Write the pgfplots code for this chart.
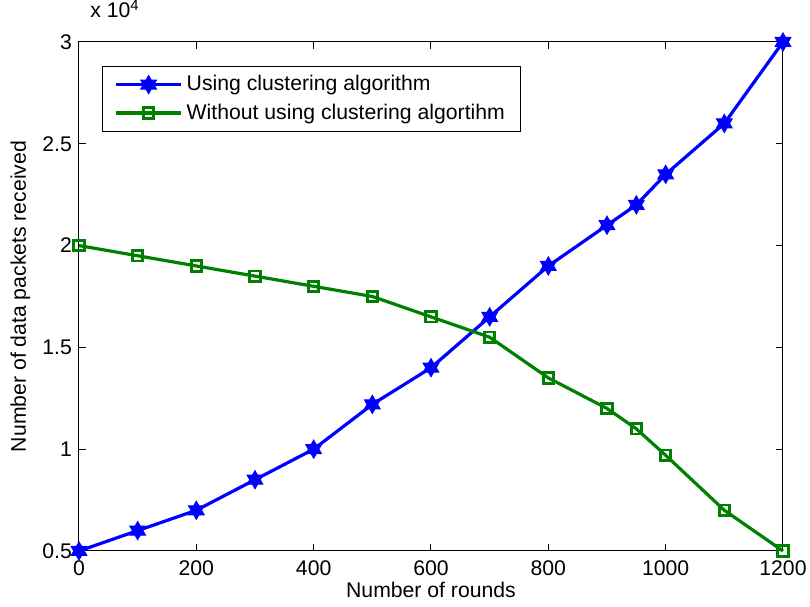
\documentclass[border=0pt]{standalone}
\usepackage{pgfplots}
\pgfplotsset{compat=1.18}
\usepackage{fontspec}
\setmainfont{Liberation Sans}
\definecolor{mblue}{rgb}{0,0,1}
\definecolor{mgreen}{rgb}{0,0.5,0}
\pgfdeclareplotmark{hexstar}{%
  \pgfpathmoveto{\pgfqpointpolar{90}{\pgfplotmarksize}}%
  \pgfpathlineto{\pgfqpointpolar{210}{\pgfplotmarksize}}%
  \pgfpathlineto{\pgfqpointpolar{330}{\pgfplotmarksize}}%
  \pgfpathclose
  \pgfpathmoveto{\pgfqpointpolar{270}{\pgfplotmarksize}}%
  \pgfpathlineto{\pgfqpointpolar{30}{\pgfplotmarksize}}%
  \pgfpathlineto{\pgfqpointpolar{150}{\pgfplotmarksize}}%
  \pgfpathclose
  \pgfusepathqfillstroke}
\newcommand{\ff}{\fontsize{10.6}{12.7}\selectfont}
\begin{document}
\begin{tikzpicture}
\begin{axis}[
  scale only axis,
  width=352pt, height=254.5pt,
  xmin=0, xmax=1200, ymin=5000, ymax=30000,
  xtick={0,200,...,1200},
  ytick={5000,10000,15000,20000,25000,30000},
  yticklabels={0.5,1,1.5,2,2.5,3},
  scaled y ticks=false,
  /pgf/number format/1000 sep={},
  /pgf/number format/assume math mode=true,
  tick label style={font=\ff, black},
  xticklabel style={yshift=-1.5pt},
  tick align=inside,
  major tick length=3.5pt,
  tick style={line width=0.5pt, black},
  axis line style={line width=0.5pt, black},
  xlabel={Number of rounds},
  ylabel={Number of data packets received},
  label style={font=\ff},
  xlabel style={at={(axis description cs:0.5,0)}, anchor=base, yshift=-23.5pt},
  ylabel style={at={(axis description cs:-0.0753,0.5)}, anchor=base, rotate=0},
  clip=false,
  legend style={at={(axis description cs:0.0327,0.953)}, anchor=north west,
    draw=black, line width=0.5pt, font=\ff, inner xsep=6pt, inner ysep=2.5pt,
    row sep=1pt, cells={anchor=west}},
  legend image code/.code={%
    \draw[mark repeat=2,mark phase=2,#1] plot coordinates {(2.5pt,0pt) (18.75pt,0pt) (35pt,0pt)};},
]
\addplot[mblue, line width=1.6pt, mark=hexstar, mark size=4.5pt,
  mark options={fill=mblue, draw=mblue, line width=0.5pt}]
  coordinates {(0,5000) (100,6000) (200,7000) (300,8500) (400,10000) (500,12200)
  (600,14000) (700,16500) (800,19000) (900,21000) (950,22000) (1000,23500)
  (1100,26000) (1200,30000)};
\addlegendentry{Using clustering algorithm}
\addplot[mgreen, line width=1.6pt, mark=square, mark size=2.6pt,
  mark options={draw=mgreen, line width=1.4pt}]
  coordinates {(0,20000) (100,19500) (200,19000) (300,18500) (400,18000) (500,17500)
  (600,16500) (700,15500) (800,13500) (900,12000) (950,11000) (1000,9700)
  (1100,7000) (1200,5000)};
\addlegendentry{Without using clustering algortihm}
\node[anchor=base west, font=\ff, inner sep=0pt] at ([yshift=12pt]axis description cs:0.0156,1) {x 10\textsuperscript{4}};
\end{axis}
\pgfresetboundingbox
\path[use as bounding box] ([shift={(-39.5pt,-28pt)}]current axis.south west) rectangle ([shift={(13.5pt,21pt)}]current axis.north east);
\end{tikzpicture}
\end{document}
